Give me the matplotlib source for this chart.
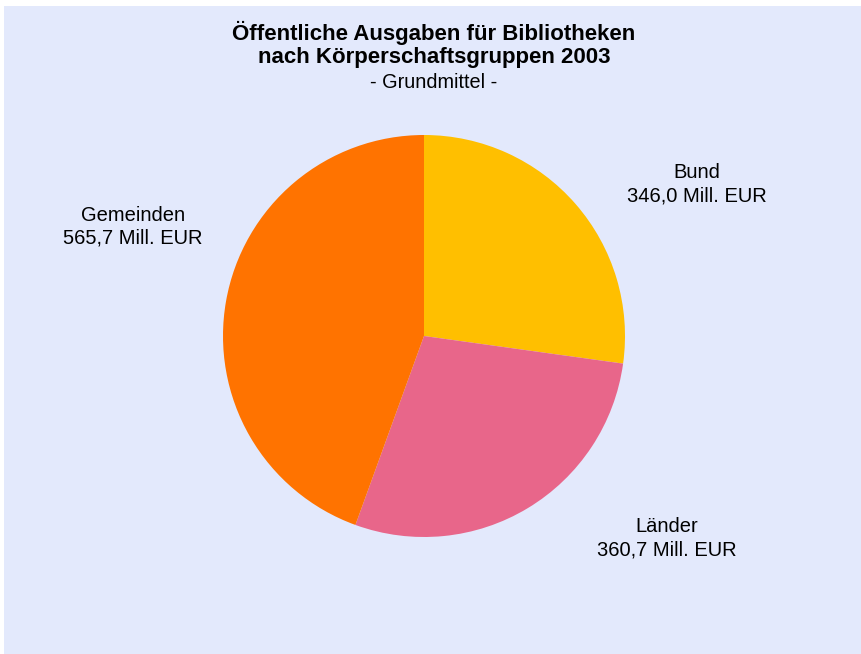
import matplotlib
matplotlib.use("Agg")
import matplotlib.pyplot as plt

categories = ["Bund", "Länder", "Gemeinden"]
values = [346.0, 360.7, 565.7]
value_labels = ["346,0 Mill. EUR", "360,7 Mill. EUR", "565,7 Mill. EUR"]
colors = ["#FFBF00", "#E8668A", "#FF7300"]

W, H = 862, 654
dpi = 100
fig = plt.figure(figsize=(W / dpi, H / dpi), dpi=dpi)
fig.patch.set_facecolor("white")

plt.rcParams["font.family"] = ["Liberation Sans", "DejaVu Sans"]

bg = fig.add_axes([4 / W, 0, 1 - 4 / W, 1 - 6 / H], zorder=0)
bg.set_facecolor("#E3E9FC")
bg.set_xticks([])
bg.set_yticks([])
for s in bg.spines.values():
    s.set_visible(False)

cx, cy, r = 424, 336, 201
ax = fig.add_axes([(cx - r) / W, (H - cy - r) / H, 2 * r / W, 2 * r / H], zorder=1)
ax.pie(values, colors=colors, startangle=90, counterclock=False,
       wedgeprops=dict(linewidth=0))
ax.set_aspect("equal")
ax.set_xlim(-1, 1)
ax.set_ylim(-1, 1)
ax.axis("off")

def fx(x):
    return x / W

def fy(y):
    return 1 - y / H

fig.text(fx(434), fy(33), "Öffentliche Ausgaben für Bibliotheken", ha="center", va="center",
         fontsize=16, fontweight="bold", zorder=3)
fig.text(fx(434), fy(58), "nach Körperschaftsgruppen 2003", ha="center", va="center",
         fontsize=16, fontweight="bold", zorder=3)
fig.text(fx(434), fy(82), "- Grundmittel -", ha="center", va="center", fontsize=14.3, zorder=3)

label_pos = [(697, 173), (667, 527), (133, 215)]
for (x, y), cat, vl in zip(label_pos, categories, value_labels):
    fig.text(fx(x), fy(y), cat, ha="center", va="center", fontsize=14.5, zorder=3)
    fig.text(fx(x), fy(y + 23), vl, ha="center", va="center", fontsize=14.5, zorder=3)

fig.savefig("out.png", dpi=dpi)
